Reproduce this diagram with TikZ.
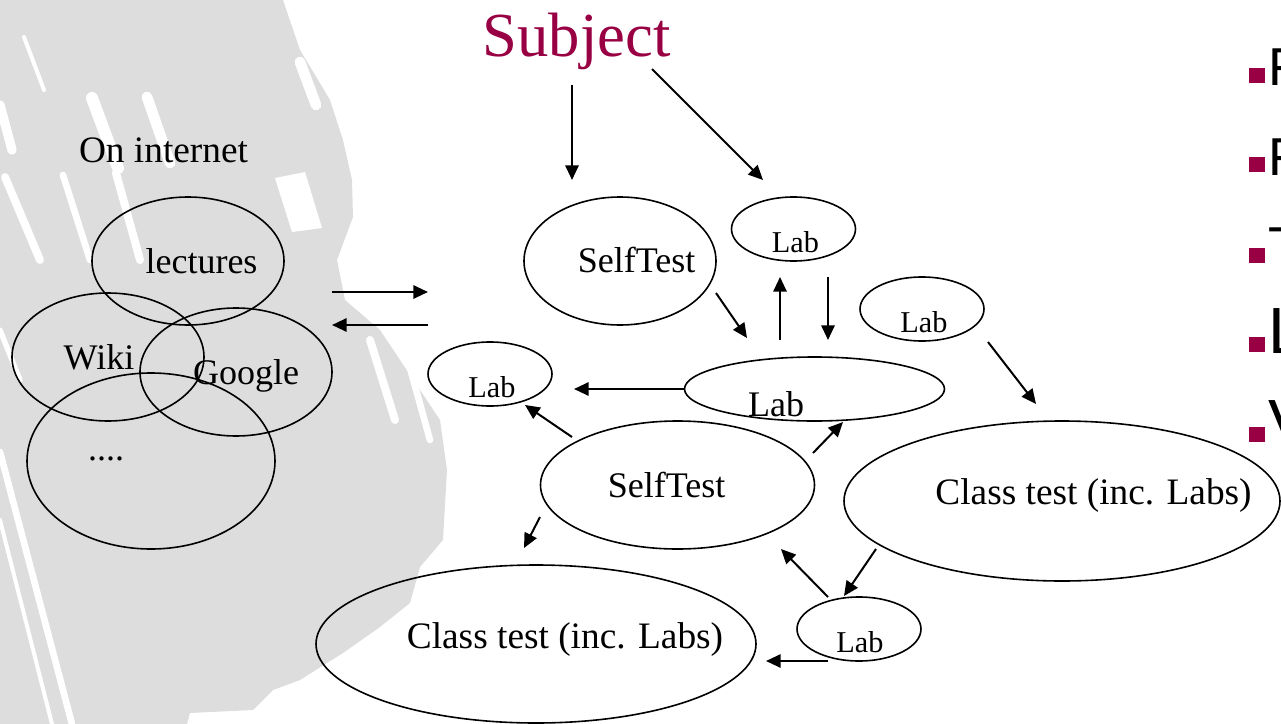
\documentclass[tikz,border=0pt]{standalone}
\usepackage{fontspec}
\setmainfont{Liberation Serif}
\newfontfamily\bulletfont{Liberation Sans}
\usetikzlibrary{arrows.meta,shapes.geometric}
\definecolor{subj}{RGB}{153,0,68}
\definecolor{bggrey}{RGB}{221,221,221}
\begin{document}
\begin{tikzpicture}[x=0.75pt,y=-0.75pt,
  oval/.style={draw, line width=1.2pt, ellipse, inner sep=0pt},
  arr/.style={line width=1.5pt, -{Triangle[length=11pt,width=10pt]}},
  lbl/.style={anchor=base, inner sep=0pt, font=\fontsize{27}{30}\selectfont},
  smlbl/.style={anchor=base, inner sep=0pt, font=\fontsize{22.7}{26}\selectfont},
  bigtext/.style={anchor=base, inner sep=0pt, font=\fontsize{28}{32}\selectfont},
  bsq/.style={fill=subj, inner sep=0pt, minimum width=12pt, minimum height=11.25pt},
  bletter/.style={anchor=base west, inner sep=0pt, font=\bulletfont\fontsize{40}{44}\selectfont},
  bletterb/.style={anchor=base west, inner sep=0pt, font=\bulletfont\fontsize{49}{52}\selectfont},
  stripe/.style={white, line cap=round}
]
\useasboundingbox (0,0) rectangle (1281,724);
\clip (0,0) rectangle (1281,724);

% background texture
\fill[bggrey] (0,0) -- (283,0) -- (300,50) -- (330,100) -- (343,140) -- (352,180)
  -- (353,217) -- (337,260) -- (345,300) -- (380,330) -- (440,420) -- (447,470)
  -- (443,540) -- (420,567) -- (410,603) -- (380,627) -- (343,653) -- (300,680)
  -- (273,690) -- (253,710) -- (190,713) -- (187,724) -- (0,724) -- cycle;
\draw[stripe, line width=3pt] (24,37) -- (44,90);
\draw[stripe, line width=9pt] (92,98) -- (118,168);
\draw[stripe, line width=8pt] (147,97) -- (170,163);
\draw[stripe, line width=7pt] (0,105) -- (12,150);
\draw[stripe, line width=6pt] (5,177) -- (40,260);
\draw[stripe, line width=5pt] (63,175) -- (90,260);
\draw[stripe, line width=6pt] (116,173) -- (140,260);
\draw[stripe, line width=8pt] (300,62) -- (316,105);
\fill[white] (275,178) -- (305,172) -- (322,228) -- (292,232) -- cycle;
\draw[stripe, line width=5pt] (0,452) -- (72,724);
\draw[stripe, line width=3pt] (0,520) -- (52,724);
\draw[stripe, line width=4pt] (20,380) -- (0,330);
\draw[stripe, line width=6pt] (370,340) -- (395,420);
\draw[stripe, line width=5pt] (405,350) -- (430,440);

% Subject
\node[anchor=base, inner sep=0pt, text=subj, font=\fontsize{47}{50}\selectfont] (subject) at (576.5,57) {Subject};

% left cluster
\node[anchor=base, inner sep=0pt, font=\fontsize{28}{30}\selectfont] (oninternet) at (163.5,162) {On internet};
\node[oval, minimum width=144pt, minimum height=96pt] (lec) at (188,261) {};
\node[oval, minimum width=144pt, minimum height=96pt] (wiki) at (108,357) {};
\node[oval, minimum width=144pt, minimum height=96pt] (google) at (236,372) {};
\node[oval, minimum width=186pt, minimum height=132pt] (dots) at (151,461) {};
\node[lbl] (leclbl) at (201.5,273) {lectures};
\node[lbl] (wikilbl) at (99,369) {Wiki};
\node[lbl] (googlelbl) at (246,384) {Google};
\node[lbl] (dotslbl) at (106,460) {....};

% right cluster ellipses
\node[oval, minimum width=144pt, minimum height=96pt] (st1) at (620,261) {};
\node[oval, minimum width=93pt, minimum height=48pt] (labA) at (793.5,229) {};
\node[oval, minimum width=93pt, minimum height=48pt] (labB) at (922,309) {};
\node[oval, minimum width=195pt, minimum height=48pt] (labM) at (814.5,389) {};
\node[oval, minimum width=93pt, minimum height=48pt] (labL) at (490,374) {};
\node[oval, minimum width=205.5pt, minimum height=96pt] (st2) at (677.5,485) {};
\node[oval, minimum width=330pt, minimum height=118.5pt] (ctB) at (536,644) {};
\node[oval, minimum width=93pt, minimum height=48pt] (labD) at (859,629) {};
\node[oval, minimum width=327pt, minimum height=120pt] (ctR) at (1062,501) {};

\node[lbl] (st1lbl) at (636.5,272) {SelfTest};
\node[smlbl] (labAlbl) at (795.5,252) {Lab};
\node[smlbl] (labBlbl) at (924,332) {Lab};
\node[lbl] (labMlbl) at (776,416) {Lab};
\node[smlbl] (labLlbl) at (492,397) {Lab};
\node[lbl] (st2lbl) at (666.5,497) {SelfTest};
\node[bigtext] (ctBlbl) at (565,648) {Class test (inc. Labs)};
\node[smlbl] (labDlbl) at (860,652) {Lab};
\node[bigtext] (ctRlbl) at (1093.5,504) {Class test (inc. Labs)};

% arrow end points
\coordinate (a1s) at (572,85);   \coordinate (a1e) at (572,180);
\coordinate (a2s) at (652,69);   \coordinate (a2e) at (763,180);
\coordinate (a3s) at (332,292);  \coordinate (a3e) at (428,292);
\coordinate (a4s) at (428,325);  \coordinate (a4e) at (332,325);
\coordinate (a5s) at (716,293);  \coordinate (a5e) at (747,338);
\coordinate (a6s) at (780,340);  \coordinate (a6e) at (780,277);
\coordinate (a7s) at (828,277);  \coordinate (a7e) at (828,340);
\coordinate (a8s) at (684,389);  \coordinate (a8e) at (574,389);
\coordinate (a9s) at (572,437);  \coordinate (a9e) at (525,405);
\coordinate (a10s) at (813,453); \coordinate (a10e) at (843,422);
\coordinate (a11s) at (988,342); \coordinate (a11e) at (1036,404);
\coordinate (a12s) at (540,517); \coordinate (a12e) at (524,548);
\coordinate (a13s) at (828,597); \coordinate (a13e) at (781,549);
\coordinate (a14s) at (876,549); \coordinate (a14e) at (844,596);
\coordinate (a15s) at (828,661); \coordinate (a15e) at (766,661);

\foreach \i in {1,...,15} \draw[arr] (a\i s) -- (a\i e);

% bullets on the right
\node[bsq] (b1) at (1257,75.5) {};
\node[bsq] (b2) at (1257,164.5) {};
\node[bsq] (b3) at (1257,255) {};
\node[bsq] (b4) at (1257,344.5) {};
\node[bsq] (b5) at (1257,434.5) {};
\node[bletter] (t1) at (1268,85) {F};
\node[bletter] (t2) at (1268,175) {F};
\node[bletter] (t3) at (1268,264) {T};
\node[bletterb] (t4) at (1268,353) {L};
\node[bletterb] (t5) at (1268,445) {V};
\end{tikzpicture}
\end{document}
